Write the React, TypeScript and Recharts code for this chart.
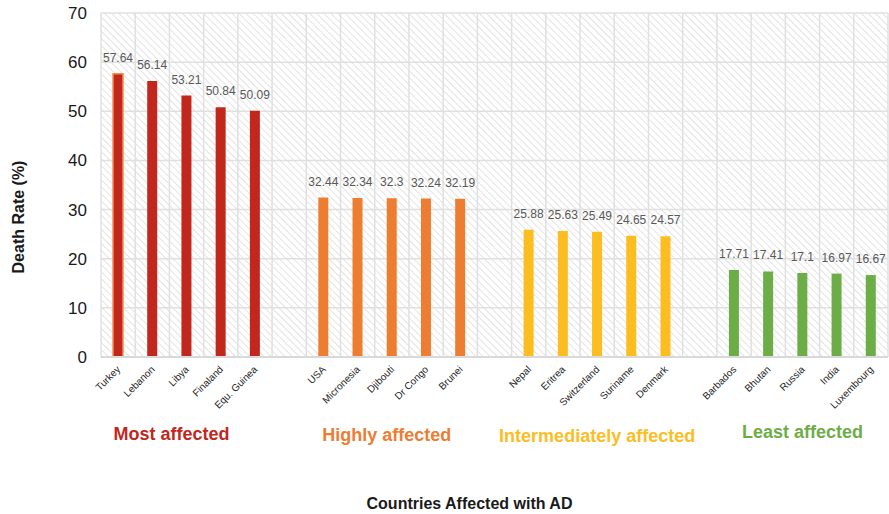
import React from "react";
import { BarChart, Bar, XAxis, YAxis, CartesianGrid, Cell, LabelList } from "recharts";

const groupNames = ["Most affected", "Highly affected", "Intermediately affected", "Least affected"];
const groupColors = ["#C1271D", "#ED7D31", "#FBBD1F", "#6DAD47"];

const mostCountries = ["Turkey", "Lebanon", "Libya", "Finaland", "Equ. Guinea"];
const mostValues = [57.64, 56.14, 53.21, 50.84, 50.09];
const highlyCountries = ["USA", "Micronesia", "Djibouti", "Dr Congo", "Brunei"];
const highlyValues = [32.44, 32.34, 32.3, 32.24, 32.19];
const interCountries = ["Nepal", "Eritrea", "Switzerland", "Suriname", "Denmark"];
const interValues = [25.88, 25.63, 25.49, 24.65, 24.57];
const leastCountries = ["Barbados", "Bhutan", "Russia", "India", "Luxembourg"];
const leastValues = [17.71, 17.41, 17.1, 16.97, 16.67];

const yTicks = [0, 10, 20, 30, 40, 50, 60, 70];
const highlighted = ["Turkey"];

const groupCountries = [mostCountries, highlyCountries, interCountries, leastCountries];
const groupValues = [mostValues, highlyValues, interValues, leastValues];

type Row = { name: string; value: number | null; group: number; pos: number; isGap: boolean };

const data: Row[] = [];
groupCountries.forEach((countries, g) => {
  countries.forEach((c, i) => {
    data.push({ name: c, value: groupValues[g][i], group: g, pos: i, isGap: false });
  });
  if (g < groupCountries.length - 1) {
    data.push({ name: `gap${g}`, value: null, group: -1, pos: -1, isGap: true });
  }
});

const rowByName: Record<string, Row> = {};
data.forEach((d) => (rowByName[d.name] = d));

// small visual nudges for the group captions (style only)
const groupLabelDx = [-15, -5, 0, 0];
const groupLabelDy = [0, 1, 2, -2];

const CountryTick = (props: any) => {
  const { x, y, payload } = props;
  const row = rowByName[payload?.value];
  if (!row || row.isGap) return null;
  const middle = Math.floor(groupCountries[row.group].length / 2);
  const tx = x + 3;
  const ty = y + 5;
  return (
    <g>
      <text
        x={tx}
        y={ty}
        transform={`rotate(-45, ${tx}, ${ty})`}
        textAnchor="end"
        fontSize={10}
        fill="#262626"
      >
        {row.name}
      </text>
      {row.pos === middle && (
        <text
          x={x + groupLabelDx[row.group]}
          y={y + 75 + groupLabelDy[row.group]}
          textAnchor="middle"
          fontSize={18}
          fontWeight="bold"
          fill={groupColors[row.group]}
        >
          {groupNames[row.group]}
        </text>
      )}
    </g>
  );
};

const YTitle = (props: any) => {
  const vb = props.viewBox || {};
  const cx = (vb.x ?? 0) + 24;
  const cy = (vb.y ?? 0) + (vb.height ?? 0) / 2 + 32;
  return (
    <text x={cx} y={cy} transform={`rotate(-90, ${cx}, ${cy})`} textAnchor="middle" fontSize={16} fontWeight="bold" fill="#1a1a1a">
      Death Rate (%)
    </text>
  );
};

const XTitle = (props: any) => {
  const vb = props.viewBox || {};
  const cx = (vb.x ?? 0) + (vb.width ?? 0) / 2 - 25;
  const cy = (vb.y ?? 0) + 152;
  return (
    <text x={cx} y={cy} textAnchor="middle" fontSize={16} fontWeight="bold" fill="#1a1a1a">
      Countries Affected with AD
    </text>
  );
};

const verticalGen = (args: any) => {
  const { offset } = args;
  const n = data.length;
  const pts: number[] = [];
  for (let i = 0; i <= n; i++) pts.push(offset.left + (i * offset.width) / n);
  return pts;
};

export default function App() {
  return (
    <div style={{ position: "fixed", left: 0, top: 0, width: 889, height: 514, background: "#fff", fontFamily: "'Liberation Sans', Arial, sans-serif" }}>
      <svg width={0} height={0} style={{ position: "absolute" }}>
        <defs>
          <pattern id="hatch" width="5" height="5" patternUnits="userSpaceOnUse" patternTransform="rotate(45)">
            <rect width="5" height="5" fill="#ffffff" />
            <line x1="0" y1="0" x2="5" y2="0" stroke="#e3e3e3" strokeWidth="2" />
          </pattern>
        </defs>
      </svg>
      <BarChart width={889} height={514} data={data} margin={{ top: 13, right: 1, left: 0, bottom: 0 }}>
        <CartesianGrid
          fill="url(#hatch)"
          stroke="#e0e0e0"
          strokeWidth={1.5}
          verticalCoordinatesGenerator={verticalGen}
        />
        <XAxis
          dataKey="name"
          interval={0}
          tickLine={false}
          height={157}
          axisLine={{ stroke: "#d9d9d9", strokeWidth: 2 }}
          tick={<CountryTick />}
          label={<XTitle />}
        />
        <YAxis
          width={101}
          domain={[0, 70]}
          ticks={yTicks}
          axisLine={false}
          tickLine={false}
          tickMargin={8}
          tick={{ fontSize: 17, fill: "#1a1a1a" }}
          label={<YTitle />}
        />
        <Bar dataKey="value" barSize={10} isAnimationActive={false}>
          {data.map((d, i) => (
            <Cell
              key={i}
              fill={d.group >= 0 ? groupColors[d.group] : "none"}
              stroke={highlighted.includes(d.name) ? "#F4914A" : "none"}
              strokeWidth={highlighted.includes(d.name) ? 1.5 : 0}
            />
          ))}
          <LabelList
            dataKey="value"
            position="top"
            offset={12}
            fontSize={12}
            fill="#595959"
            formatter={(v: any) => (v === null || v === undefined ? "" : String(v))}
          />
        </Bar>
      </BarChart>
    </div>
  );
}
